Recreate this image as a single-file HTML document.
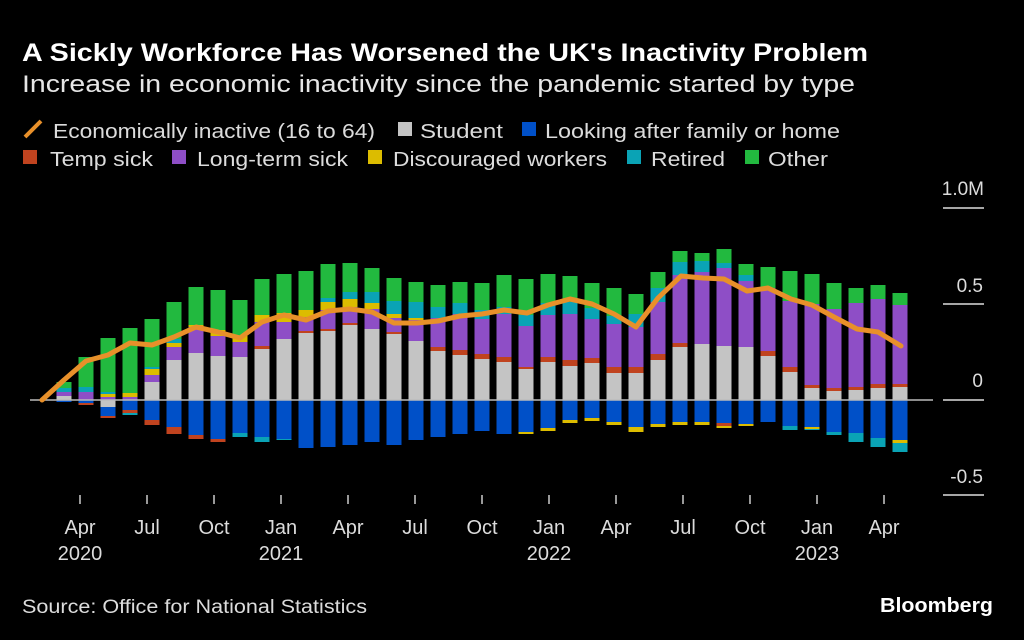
<!DOCTYPE html>
<html><head><meta charset="utf-8"><style>
html,body{margin:0;padding:0;background:#000;}
svg{display:block;font-family:"Liberation Sans",sans-serif;}
</style></head><body>
<svg id="c" width="1024" height="640" viewBox="0 0 1024 640" xmlns="http://www.w3.org/2000/svg">
<rect width="1024" height="640" fill="#000"/>
<text x="22" y="61" fill="#fff" font-size="25" font-weight="bold" textLength="846" lengthAdjust="spacingAndGlyphs">A Sickly Workforce Has Worsened the UK's Inactivity Problem</text>
<text x="22" y="92" fill="#e6e6e6" font-size="24" textLength="833" lengthAdjust="spacingAndGlyphs">Increase in economic inactivity since the pandemic started by type</text>
<g font-size="20" fill="#dcdcdc">
<line x1="25" y1="137" x2="41" y2="121" stroke="#e8902a" stroke-width="4"/>
<text x="53" y="138" textLength="322" lengthAdjust="spacingAndGlyphs">Economically inactive (16 to 64)</text>
<rect x="398" y="122" width="14" height="14" fill="#c4c4c4"/>
<text x="420" y="138" textLength="83" lengthAdjust="spacingAndGlyphs">Student</text>
<rect x="522" y="122" width="14" height="14" fill="#0050c8"/>
<text x="545" y="138" textLength="295" lengthAdjust="spacingAndGlyphs">Looking after family or home</text>
<rect x="23" y="150" width="14" height="14" fill="#c0431f"/>
<text x="50" y="166" textLength="103" lengthAdjust="spacingAndGlyphs">Temp sick</text>
<rect x="172" y="150" width="14" height="14" fill="#8e4ec6"/>
<text x="197" y="166" textLength="151" lengthAdjust="spacingAndGlyphs">Long-term sick</text>
<rect x="368" y="150" width="14" height="14" fill="#dcbc00"/>
<text x="393" y="166" textLength="214" lengthAdjust="spacingAndGlyphs">Discouraged workers</text>
<rect x="627" y="150" width="14" height="14" fill="#0aa3b5"/>
<text x="651" y="166" textLength="74" lengthAdjust="spacingAndGlyphs">Retired</text>
<rect x="745" y="150" width="14" height="14" fill="#22b93f"/>
<text x="768" y="166" textLength="60" lengthAdjust="spacingAndGlyphs">Other</text>
</g>
<g stroke="#ddd" stroke-width="1.5">
<line x1="943" y1="208" x2="984" y2="208"/>
<line x1="943" y1="304" x2="984" y2="304"/>
<line x1="943" y1="400" x2="984" y2="400"/>
<line x1="943" y1="495" x2="984" y2="495"/>
</g>
<g font-size="19" fill="#dcdcdc" text-anchor="end">
<text x="984" y="195">1.0M</text>
<text x="983" y="292">0.5</text>
<text x="983" y="387">0</text>
<text x="983" y="483">-0.5</text>
</g>
<g id="bars"></g>
<line x1="30" y1="400" x2="933" y2="400" stroke="#bbb" stroke-width="1.5"/>
<polyline id="ln" fill="none" stroke="#e8902a" stroke-width="5" stroke-linejoin="round" stroke-linecap="round"/>
<g id="ticks" stroke="#ccc" stroke-width="1.5"></g>
<g id="tl" font-size="20" fill="#dcdcdc" text-anchor="middle"></g>
<text x="22" y="613" fill="#dcdcdc" font-size="19" textLength="345" lengthAdjust="spacingAndGlyphs">Source: Office for National Statistics</text>
<text x="993" y="612" fill="#fff" font-size="20" font-weight="bold" text-anchor="end" textLength="113" lengthAdjust="spacingAndGlyphs">Bloomberg</text>
</svg>
<script>
var C={s:"#c4c4c4",r:"#c0431f",p:"#8e4ec6",y:"#dcbc00",t:"#0aa3b5",o:"#22b93f",b:"#0050c8"};
var D=["s396 p392 t388 o382|b402","p392 t387 o357|b403 r405","p397 y394 t392 o338|s407 b416 r418","p397 y393 o328|b410 r413 t415",
"s382 p375 y369 t367 o319|b420 r425","s360 p347 y343 t339 o302|b427 r434","s353 p327 y325 o287|b435 r439","s356 p336 y330 o290|b439 r442",
"s357 p342 y336 o300|b433 t437","s349 r346 p322 y315 o279|b437 t442","s339 p322 y313 o274|b439 t440","s333 r331 p317 y310 o271|b448",
"s331 r329 p310 y302 t298 o264|b447","s325 r323 p307 y299 t292 o263|b445","s329 p309 y303 t292 o268|b442","s334 r332 p318 y314 t301 o278|b445",
"s341 p320 y318 t302 o282|b440","s351 r347 p318 t307 o285|b437","s355 r350 p314 t303 o282|b434","s359 r354 p319 t310 o283|b431",
"s362 r357 p314 t307 o275|b434","s369 r367 p326 t315 o279|b432 y434","s362 r357 p315 t303 o274|b428 y431","s366 r360 p314 t302 o276|b420 y423",
"s363 r358 p319 t308 o283|b418 y421","s373 r367 p324 t316 o288|b422 y425","s373 r367 p327 t314 o294|b427 y432","s360 r354 p302 t288 o272|b424 y427",
"s347 r343 p275 t262 o251|b422 y425","s344 p272 t261 o253|b422 y425","s346 p268 t263 o249|b423 r426 y428","s347 p281 t275 o264|b424 y426",
"s356 r351 p288 o267|b422","s372 r367 p301 o271|b426 t430","s388 r385 p304 o274|b427 y429 t430","s391 r388 p309 o283|b432 t435",
"s390 r387 p303 o288|b433 t442","s388 r384 p299 o285|b438 t447","s387 r384 p305 o293|b440 y443 t452"];
var NS="http://www.w3.org/2000/svg",g=document.getElementById("bars");
function R(x,y1,y2,c){var e=document.createElementNS(NS,"rect");e.setAttribute("x",x);e.setAttribute("y",Math.min(y1,y2));e.setAttribute("width",15);e.setAttribute("height",Math.abs(y2-y1));e.setAttribute("fill",c);g.appendChild(e);}
D.forEach(function(s,i){var x=64+22*i-7.5,parts=s.split("|");
var prev=400;parts[0].split(" ").forEach(function(t){var y=+t.slice(1);R(x,y,prev,C[t[0]]);prev=y;});
prev=400;parts[1].split(" ").forEach(function(t){var y=+t.slice(1);R(x,prev,y,C[t[0]]);prev=y;});});
var L=[[42,400],[64,380],[86,361],[108,355],[130,343],[152,345],[174,337],[196,327],[218,332],[240,338],[262,322],[284,315],[306,320],[328,311],[350,309],[372,312],[394,323],[417,323],[438,321],[460,316],[482,314],[504,310],[527,313],[548,305],[570,299],[592,304],[614,314],[636,327],[658,298],[681,276],[703,278],[724,279],[747,291],[768,288],[791,299],[812,305],[834,317],[857,329],[878,332],[901,346]];
document.getElementById("ln").setAttribute("points",L.map(function(p){return p.join(",")}).join(" "));
var M=["Apr","Jul","Oct","Jan"],tk=document.getElementById("ticks"),tl=document.getElementById("tl"),Y={0:"2020",3:"2021",7:"2022",11:"2023"};
for(var k=0;k<13;k++){var x=80+67*k;var l=document.createElementNS(NS,"line");l.setAttribute("x1",x);l.setAttribute("x2",x);l.setAttribute("y1",495);l.setAttribute("y2",504);tk.appendChild(l);
var t=document.createElementNS(NS,"text");t.setAttribute("x",x);t.setAttribute("y",534);t.textContent=M[k%4];tl.appendChild(t);
if(Y[k]){var t2=document.createElementNS(NS,"text");t2.setAttribute("x",x);t2.setAttribute("y",560);t2.textContent=Y[k];tl.appendChild(t2);}}
</script>
</body></html>
